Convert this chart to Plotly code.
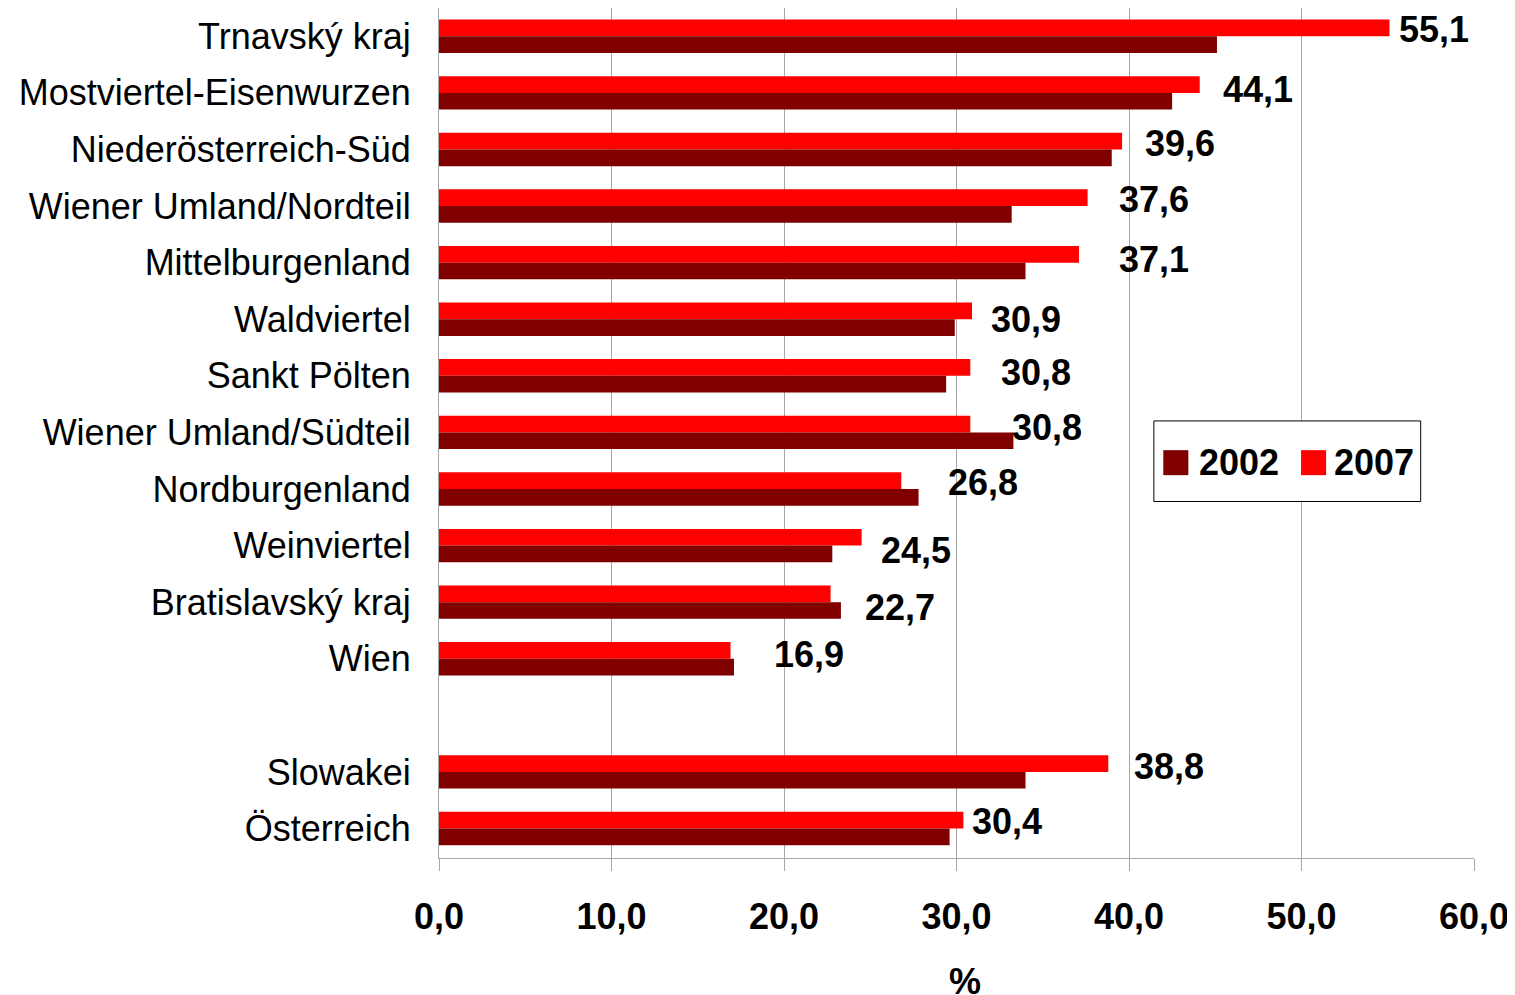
import plotly.graph_objects as go

# ---- data ----
categories = [
    "Trnavský kraj", "Mostviertel-Eisenwurzen", "Niederösterreich-Süd",
    "Wiener Umland/Nordteil", "Mittelburgenland", "Waldviertel", "Sankt Pölten",
    "Wiener Umland/Südteil", "Nordburgenland", "Weinviertel", "Bratislavský kraj",
    "Wien", " ", "Slowakei", "Österreich",
]
values_2002 = [45.1, 42.5, 39.0, 33.2, 34.0, 29.9, 29.4, 33.3, 27.8, 22.8, 23.3, 17.1, None, 34.0, 29.6]
values_2007 = [55.1, 44.1, 39.6, 37.6, 37.1, 30.9, 30.8, 30.8, 26.8, 24.5, 22.7, 16.9, None, 38.8, 30.4]
series_names = ["2002", "2007"]
x_tickvals = [0, 10, 20, 30, 40, 50, 60]
x_ticktext = ["0,0", "10,0", "20,0", "30,0", "40,0", "50,0", "60,0"]
x_title = "%"

# ---- style ----
FONT = "Liberation Sans, Arial, sans-serif"
C2002 = "#800000"
C2007 = "#FF0000"
GRID = "#a6a6a6"
# per-label nudges (pixels) mimicking the hand-placed labels of the original
label_xshift = [8, 21, 21, 29, 38, 17, 29, 40, 45, 17, 32, 41, 0, 24, 7]
label_yshift = [7, 3, 6, 7, 3, 0, 3, 5, 6, -5, -5, 4, 0, 5, 7]


def fmt(v):
    return f"{v:.1f}".replace(".", ",")


fig = go.Figure()
fig.add_trace(go.Bar(
    y=categories, x=values_2007, name=series_names[1], orientation="h",
    marker=dict(color=C2007, line=dict(width=0)), showlegend=False,
))
fig.add_trace(go.Bar(
    y=categories, x=values_2002, name=series_names[0], orientation="h",
    marker=dict(color=C2002, line=dict(width=0)), showlegend=False,
))

annotations = []
for cat, v, dx, dy in zip(categories, values_2007, label_xshift, label_yshift):
    if v is None:
        continue
    annotations.append(dict(
        x=v, y=cat, xref="x", yref="y", text=fmt(v), showarrow=False,
        xanchor="left", yanchor="middle", xshift=dx, yshift=dy,
        font=dict(family=FONT, size=36, color="black", weight="bold"),
    ))

# axis title "%"
annotations.append(dict(
    x=0.508, y=0, xref="paper", yref="paper", text=x_title, showarrow=False,
    xanchor="center", yanchor="top", yshift=-101,
    font=dict(family=FONT, size=36, color="black", weight="bold"),
))

# manual legend (large square swatches)
leg_items = [(series_names[0], C2002, 0.6998, 0.7352), (series_names[1], C2007, 0.8329, 0.8657)]
shapes = [dict(type="rect", xref="paper", yref="paper", x0=0.6907, x1=0.9485,
               y0=0.4194, y1=0.5142, line=dict(color="black", width=1),
               fillcolor="white", layer="above")]
for name, col, sx, tx in leg_items:
    shapes.append(dict(type="rect", xref="paper", yref="paper", x0=sx, x1=sx + 0.0242,
                       y0=0.4504, y1=0.4798, line=dict(width=0), fillcolor=col, layer="above"))
    annotations.append(dict(
        x=tx, y=0.4651, xref="paper", yref="paper", text=name, showarrow=False,
        xanchor="left", yanchor="middle", xshift=-3,
        font=dict(family=FONT, size=36, color="black", weight="bold"),
    ))

# the page adds an 8px body margin, so the figure is 8px smaller and margins shifted
fig.update_layout(
    width=1507, height=987,
    margin=dict(l=431, r=41, t=0, b=137, autoexpand=False),
    paper_bgcolor="white", plot_bgcolor="white",
    barmode="group", bargap=0.41, bargroupgap=0,
    showlegend=False,
    font=dict(family=FONT, color="black"),
    annotations=annotations, shapes=shapes,
    xaxis=dict(
        range=[0, 60], tickvals=x_tickvals, ticktext=x_ticktext,
        tickfont=dict(family=FONT, size=36, color="black", weight="bold"),
        showgrid=True, gridcolor=GRID, gridwidth=1,
        showline=True, linecolor=GRID, linewidth=1,
        ticks="outside", ticklen=12, tickcolor=GRID, tickwidth=1,
        ticklabelstandoff=15, zeroline=False, fixedrange=True,
    ),
    yaxis=dict(
        type="category", categoryorder="array", categoryarray=categories,
        autorange="reversed",
        tickfont=dict(family=FONT, size=36, color="black"),
        showgrid=False, showline=True, linecolor=GRID, linewidth=1,
        ticks="", ticklabelstandoff=20, zeroline=False, fixedrange=True,
    ),
)

fig.write_html("out.html")
